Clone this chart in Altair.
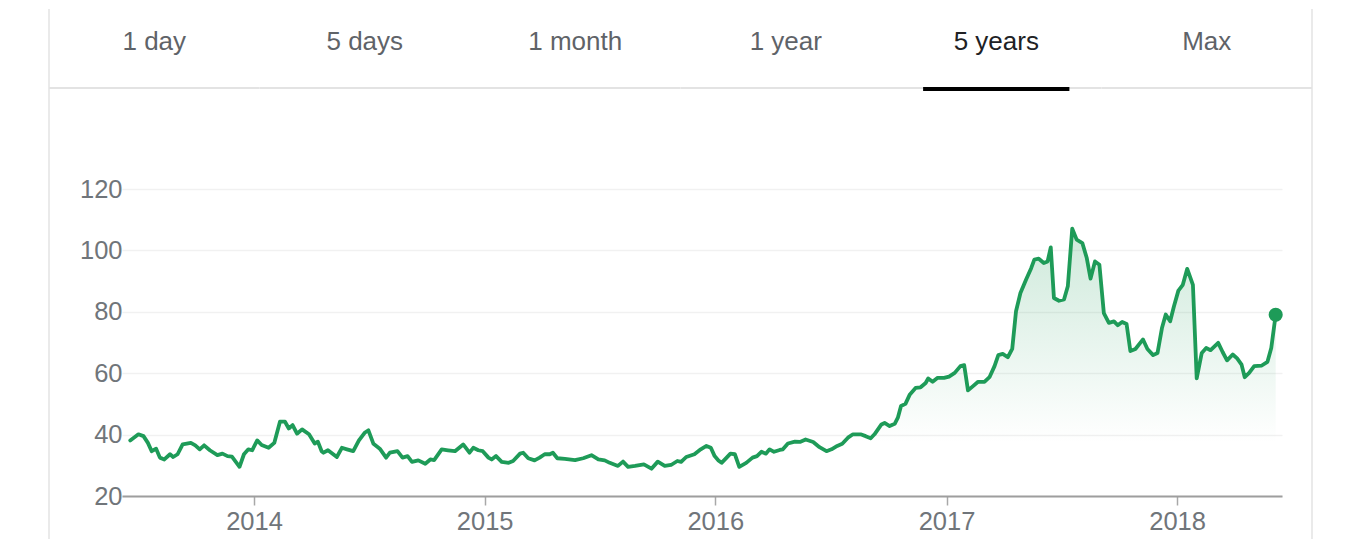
import altair as alt
import pandas as pd

# ---------------- data ----------------
dates = [
    "2013-06-19", "2013-07-02", "2013-07-10", "2013-07-17", "2013-07-23", "2013-07-30", "2013-08-05", "2013-08-12", "2013-08-21", "2013-08-26",
    "2013-09-02", "2013-09-10", "2013-09-23", "2013-09-30", "2013-10-07", "2013-10-14", "2013-10-23", "2013-11-04", "2013-11-12", "2013-11-20",
    "2013-11-27", "2013-12-09", "2013-12-16", "2013-12-23", "2013-12-29", "2014-01-06", "2014-01-13", "2014-01-24", "2014-02-02", "2014-02-11",
    "2014-02-19", "2014-02-25", "2014-03-03", "2014-03-10", "2014-03-18", "2014-03-29", "2014-04-07", "2014-04-12", "2014-04-18", "2014-04-21",
    "2014-04-28", "2014-05-12", "2014-05-20", "2014-05-28", "2014-06-07", "2014-06-16", "2014-06-25", "2014-07-01", "2014-07-09", "2014-07-19",
    "2014-07-29", "2014-08-04", "2014-08-16", "2014-08-24", "2014-09-01", "2014-09-08", "2014-09-18", "2014-09-29", "2014-10-07", "2014-10-13",
    "2014-10-25", "2014-11-04", "2014-11-15", "2014-11-28", "2014-12-08", "2014-12-14", "2014-12-22", "2014-12-29", "2015-01-07", "2015-01-12",
    "2015-01-19", "2015-01-28", "2015-02-08", "2015-02-15", "2015-02-26", "2015-03-03", "2015-03-11", "2015-03-21", "2015-03-29", "2015-04-06",
    "2015-04-14", "2015-04-19", "2015-04-26", "2015-05-08", "2015-05-24", "2015-06-06", "2015-06-19", "2015-06-30", "2015-07-10", "2015-07-18",
    "2015-07-31", "2015-08-08", "2015-08-16", "2015-08-27", "2015-09-10", "2015-09-22", "2015-10-02", "2015-10-13", "2015-10-23", "2015-11-02",
    "2015-11-08", "2015-11-16", "2015-11-29", "2015-12-09", "2015-12-18", "2015-12-25", "2015-12-31", "2016-01-06", "2016-01-11", "2016-01-19",
    "2016-01-25", "2016-02-01", "2016-02-08", "2016-02-19", "2016-02-29", "2016-03-07", "2016-03-14", "2016-03-21", "2016-03-27", "2016-04-03",
    "2016-04-12", "2016-04-17", "2016-04-25", "2016-05-06", "2016-05-14", "2016-05-23", "2016-06-04", "2016-06-14", "2016-06-25", "2016-07-03",
    "2016-07-12", "2016-07-20", "2016-07-29", "2016-08-06", "2016-08-18", "2016-08-26", "2016-09-03", "2016-09-09", "2016-09-20", "2016-09-25",
    "2016-10-03", "2016-10-11", "2016-10-16", "2016-10-21", "2016-10-28", "2016-11-04", "2016-11-13", "2016-11-21", "2016-11-29", "2016-12-03",
    "2016-12-10", "2016-12-18", "2016-12-28", "2017-01-05", "2017-01-14", "2017-01-23", "2017-01-29", "2017-02-04", "2017-02-12", "2017-02-20",
    "2017-03-02", "2017-03-10", "2017-03-18", "2017-03-24", "2017-03-31", "2017-04-08", "2017-04-15", "2017-04-21", "2017-04-28", "2017-05-07",
    "2017-05-15", "2017-05-20", "2017-05-27", "2017-06-04", "2017-06-10", "2017-06-15", "2017-06-20", "2017-06-28", "2017-07-06", "2017-07-12",
    "2017-07-19", "2017-07-26", "2017-08-04", "2017-08-11", "2017-08-17", "2017-08-24", "2017-08-31", "2017-09-07", "2017-09-15", "2017-09-23",
    "2017-09-29", "2017-10-06", "2017-10-13", "2017-10-19", "2017-10-27", "2017-11-08", "2017-11-15", "2017-11-24", "2017-12-01", "2017-12-08",
    "2017-12-14", "2017-12-21", "2017-12-27", "2018-01-03", "2018-01-10", "2018-01-17", "2018-01-26", "2018-02-01", "2018-02-09", "2018-02-16",
    "2018-02-23", "2018-03-07", "2018-03-14", "2018-03-21", "2018-03-30", "2018-04-06", "2018-04-13", "2018-04-18", "2018-04-25", "2018-05-03",
    "2018-05-15", "2018-05-24", "2018-05-30", "2018-06-06",
]

prices = [
    38.1, 40.1, 39.5, 37.3, 34.6, 35.4, 32.5, 31.9, 33.6, 32.7,
    33.6, 36.8, 37.3, 36.5, 35.2, 36.5, 34.9, 33.3, 33.8, 33.0,
    32.8, 29.5, 33.6, 35.2, 34.9, 38.1, 36.6, 35.7, 37.3, 44.2,
    44.2, 42.0, 43.1, 40.3, 41.7, 40.1, 37.1, 37.7, 34.6, 34.1,
    34.9, 32.7, 35.7, 35.2, 34.6, 38.1, 40.6, 41.4, 37.0, 35.4,
    32.5, 34.1, 34.6, 32.5, 33.0, 31.1, 31.6, 30.5, 31.9, 31.7,
    35.2, 34.9, 34.6, 36.8, 34.1, 35.7, 34.9, 34.6, 32.5, 31.9,
    33.0, 31.1, 30.8, 31.4, 33.8, 34.1, 32.3, 31.6, 32.5, 33.6,
    33.6, 34.1, 32.3, 32.1, 31.7, 32.3, 33.3, 31.9, 31.6, 30.8,
    29.8, 31.2, 29.5, 29.8, 30.3, 28.9, 31.2, 29.8, 30.1, 31.4,
    31.1, 32.7, 33.6, 35.2, 36.3, 35.7, 33.0, 31.6, 30.8, 32.5,
    33.8, 33.6, 29.5, 30.8, 32.5, 33.0, 34.4, 33.8, 35.2, 34.4,
    35.0, 35.2, 37.1, 37.7, 37.6, 38.4, 37.6, 35.9, 34.6, 35.2,
    36.3, 37.0, 39.0, 40.1, 40.1, 39.5, 38.8, 40.1, 43.3, 43.8,
    42.8, 43.5, 45.5, 49.3, 50.0, 53.1, 55.2, 55.4, 56.8, 58.3,
    57.2, 58.5, 58.5, 58.9, 60.1, 62.3, 62.6, 54.4, 55.8, 57.2,
    57.2, 58.7, 62.3, 65.9, 66.3, 65.2, 67.9, 80.2, 86.1, 90.5,
    94.2, 97.0, 97.3, 95.9, 96.4, 101.0, 84.5, 83.6, 84.0, 88.3,
    107.1, 103.5, 102.4, 97.5, 90.8, 96.4, 95.3, 79.6, 76.4, 76.9,
    75.6, 76.7, 76.0, 67.2, 67.9, 71.0, 67.9, 65.9, 66.6, 74.7,
    79.1, 76.9, 81.8, 86.9, 88.8, 94.0, 88.8, 58.3, 66.6, 68.2,
    67.5, 69.9, 66.9, 64.2, 66.1, 64.8, 62.8, 58.7, 60.1, 62.3,
    62.5, 63.7, 68.2, 79.0,
]

tabs = ["1 day", "5 days", "1 month", "1 year", "5 years", "Max"]
active_tab = "5 years"
y_ticks = [20, 40, 60, 80, 100, 120]
x_years = [2014, 2015, 2016, 2017, 2018]

# ---------------- styling ----------------
GREEN = "#1e9b58"
FONT = "Liberation Sans"
LABEL_GRAY = "#70757a"
BORDER = "#e3e3e3"

df = pd.DataFrame({"date": pd.to_datetime(dates), "price": prices})
last_df = df.tail(1)
tab_df = pd.DataFrame({"tab": tabs})

x_scale = alt.Scale(domain=[alt.DateTime(year=2013, month=6, date=6),
                            alt.DateTime(year=2018, month=6, date=16)])
y_scale = alt.Scale(domain=[20, 120], nice=False, zero=False)

x_axis = alt.Axis(
    values=[alt.DateTime(year=y, month=1, date=1) for y in x_years],
    format="%Y", grid=False, domainColor="#9e9e9e", domainWidth=2,
    tickColor="#a8a8a8", tickSize=9, tickWidth=1.5, labelPadding=4,
    labelFontSize=25.5, labelColor=LABEL_GRAY, title=None,
)
y_axis = alt.Axis(
    values=y_ticks, grid=True, gridColor="#f1f1f1", gridWidth=1.5,
    domain=False, ticks=False, tickSize=0, labelPadding=0,
    labelFontSize=25.5, labelColor=LABEL_GRAY, title=None,
)

X = alt.X("date:T", scale=x_scale, axis=x_axis)
Y = alt.Y("price:Q", scale=y_scale, axis=y_axis)

fill = alt.Gradient(
    gradient="linear",
    stops=[alt.GradientStop(color="rgba(30,155,88,0.22)", offset=0),
           alt.GradientStop(color="rgba(30,155,88,0)", offset=0.8)],
    x1=0, x2=0, y1=0, y2=1,
)

area = alt.Chart(df).mark_area(color=fill).encode(x=X, y=Y, y2=alt.datum(20))
line = alt.Chart(df).mark_line(color=GREEN, strokeWidth=3.8, strokeJoin="round",
                               strokeCap="round").encode(x=X, y=Y)
dot = alt.Chart(last_df).mark_circle(color=GREEN, size=200, opacity=1).encode(x=X, y=Y)

data_layer = alt.layer(area, line, dot)

# ---------------- tab bar ----------------
tab_scale = alt.Scale(domain=tabs, range=[-73, 1190], paddingInner=0, paddingOuter=0)

def tab_x(band=None):
    if band is None:
        return alt.X("tab:N", scale=tab_scale, axis=None, sort=tabs)
    return alt.X("tab:N", scale=tab_scale, axis=None, sort=tabs, bandPosition=band)

separator = alt.Chart(tab_df).mark_bar(color=BORDER).encode(
    x=tab_x(), y=alt.value(-102), y2=alt.value(-100))

underline = alt.Chart(tab_df).transform_filter(
    alt.datum.tab == active_tab
).mark_bar(color="#000000", width=alt.RelativeBandSize(0.695)).encode(
    x=tab_x(), y=alt.value(-102), y2=alt.value(-98))

border_left = alt.Chart(tab_df).transform_filter(
    alt.datum.tab == tabs[0]
).mark_rule(color=BORDER, strokeWidth=1.5).encode(
    x=tab_x(0), y=alt.value(-180), y2=alt.value(350))

border_right = alt.Chart(tab_df).transform_filter(
    alt.datum.tab == tabs[-1]
).mark_rule(color=BORDER, strokeWidth=1.5).encode(
    x=tab_x(1), y=alt.value(-180), y2=alt.value(350))

tab_text = alt.Chart(tab_df).mark_text(fontSize=26, font=FONT, baseline="middle").encode(
    x=tab_x(), y=alt.value(-147), text="tab:N",
    color=alt.condition(alt.datum.tab == active_tab, alt.value("#202124"), alt.value("#5f6368")),
)

deco_layer = alt.layer(separator, underline, border_left, border_right, tab_text)

chart = alt.layer(data_layer, deco_layer).resolve_scale(
    x="independent"
).properties(
    width=1160, height=307,
    padding={"left": 40, "top": 0, "right": 5, "bottom": 0},
).configure_view(stroke=None).configure_axis(
    labelFont=FONT,
).configure_text(font=FONT)

chart.save("out.html", embed_options={"renderer": "svg", "actions": False})
